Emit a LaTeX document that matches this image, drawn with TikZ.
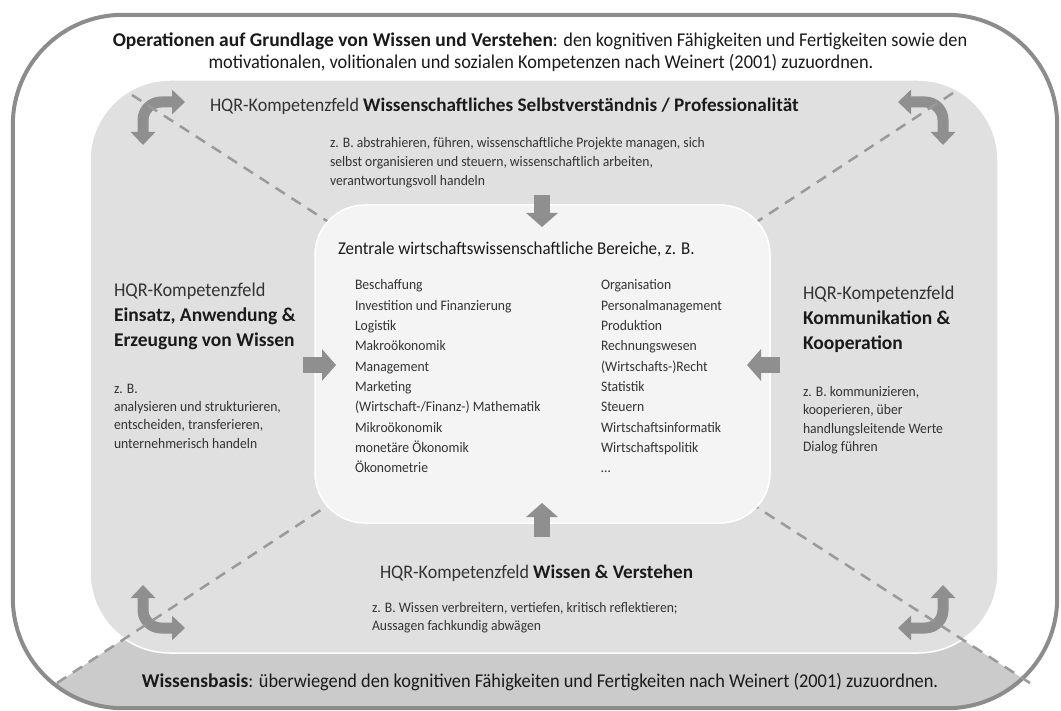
\documentclass[tikz,border=0pt]{standalone}
\usepackage{fontspec}
\setmainfont{Carlito}[UprightFeatures={FakeStretch=0.94}, BoldFeatures={FakeStretch=1.0}]
\usetikzlibrary{arrows.meta}
\definecolor{outerline}{HTML}{8C8C8C}
\definecolor{midfill}{HTML}{E0E0E0}
\definecolor{centerfill}{HTML}{F4F4F4}
\definecolor{basefill}{HTML}{CBCBCB}
\definecolor{arrowgray}{HTML}{8F8F8F}
\definecolor{dashgray}{HTML}{9A9A9A}
\definecolor{txtdark}{HTML}{1A1A1A}
\definecolor{txtreg}{HTML}{333333}
\newcommand\fsTop{\fontsize{19.5}{22}\selectfont}
\newcommand\fsHead{\fontsize{19.2}{22}\selectfont}
\newcommand\fsTitle{\fontsize{18}{22}\selectfont}
\newcommand\fsSide{\fontsize{19.5}{25}\selectfont}
\newcommand\fsSub{\fontsize{14.5}{19}\selectfont}
\newcommand\fsList{\fontsize{14.5}{19}\selectfont}
\begin{document}
\begin{tikzpicture}[x=1pt,y=-1pt,
  lbl/.style={anchor=base west, inner sep=0pt, outer sep=0pt, text=txtreg},
  ctr/.style={anchor=base, inner sep=0pt, outer sep=0pt, text=txtdark},
  dashline/.style={draw=dashgray, line width=2.5pt, dash pattern=on 11pt off 8pt},
  blockarrow/.style={draw=arrowgray, line width=16pt, -{Triangle[width=31pt,length=14pt]}},
  bentarrow/.style={draw=arrowgray, line width=11pt, rounded corners=18pt,
     {Triangle[width=24pt,length=13pt]}-{Triangle[width=24pt,length=13pt]}}]
\useasboundingbox (0,0) rectangle (1061,711);
% outer frame fill
\node[fill=white, rounded corners=110pt, minimum width=1044pt, minimum height=693pt, inner sep=0pt] (outer) at (535,361.5) {};
% knowledge base band
\begin{scope}
\clip[rounded corners=110pt] (outer.north west) rectangle (outer.south east);
\fill[basefill] (1,720) -- (183,600) -- (901,600) -- (1087,720) -- cycle;
\end{scope}
\draw[draw=outerline, line width=4pt, rounded corners=110pt] (outer.north west) rectangle (outer.south east);
% middle field
\node[fill=midfill, draw=white, line width=1.5pt, rounded corners=80pt, minimum width=908pt, minimum height=573pt, inner sep=0pt] (mid) at (544,366.5) {};
% bent arrows
\coordinate (tlv) at (143,145); \coordinate (tlc) at (143,102); \coordinate (tlh) at (185,102);
\coordinate (trv) at (943,145); \coordinate (trc) at (943,102); \coordinate (trh) at (898,102);
\coordinate (blv) at (143,585); \coordinate (blc) at (143,628); \coordinate (blh) at (185,628);
\coordinate (brv) at (943,585); \coordinate (brc) at (943,628); \coordinate (brh) at (898,628);
\draw[bentarrow] (tlv) -- (tlc) -- (tlh);
\draw[bentarrow] (trv) -- (trc) -- (trh);
\draw[bentarrow] (blv) -- (blc) -- (blh);
\draw[bentarrow] (brv) -- (brc) -- (brh);
% dashed diagonals
\coordinate (dtlA) at (132,95);  \coordinate (dtlB) at (330,223);
\coordinate (dtrA) at (953,93);  \coordinate (dtrB) at (755,223);
\coordinate (dblA) at (57,683);  \coordinate (dblB) at (330,504);
\coordinate (dbrA) at (1030,683); \coordinate (dbrB) at (755,506);
\draw[dashline] (dtlA) -- (dtlB);
\draw[dashline] (dtrA) -- (dtrB);
\draw[dashline] (dblA) -- (dblB);
\draw[dashline] (dbrA) -- (dbrB);
% center box
\node[fill=centerfill, draw=white, line width=1.5pt, rounded corners=50pt, minimum width=455pt, minimum height=318pt, inner sep=0pt] (zentral) at (542.5,364) {};
% straight block arrows
\coordinate (aTs) at (542,195); \coordinate (aTe) at (542,227);
\coordinate (aBs) at (542,537); \coordinate (aBe) at (542,503);
\coordinate (aLs) at (303,365); \coordinate (aLe) at (336,365);
\coordinate (aRs) at (780,365); \coordinate (aRe) at (747,365);
\draw[blockarrow] (aTs) -- (aTe);
\draw[blockarrow] (aBs) -- (aBe);
\draw[blockarrow] (aLs) -- (aLe);
\draw[blockarrow] (aRs) -- (aRe);
% top text
\node[ctr, font=\fsTop] (top1) at (540,47) {\textbf{Operationen auf Grundlage von Wissen und Verstehen}: den kognitiven Fähigkeiten und Fertigkeiten sowie den};
\node[ctr, font=\fsTop] (top2) at (541,69) {motivationalen, volitionalen und sozialen Kompetenzen nach Weinert (2001) zuzuordnen.};
% top field
\node[lbl, font=\fsHead] (hqrT) at (210,112) {HQR-Kompetenzfeld \textcolor{txtdark}{\textbf{Wissenschaftliches Selbstverständnis / Professionalität}}};
\node[lbl, font=\fsSub] (subT1) at (330,148) {z. B. abstrahieren, führen, wissenschaftliche Projekte managen, sich};
\node[lbl, font=\fsSub] (subT2) at (330,167) {selbst organisieren und steuern, wissenschaftlich arbeiten,};
\node[lbl, font=\fsSub] (subT3) at (330,186) {verantwortungsvoll handeln};
% center title
\node[lbl, font=\fsTitle, text=txtdark] (ztitle) at (338,255) {Zentrale wirtschaftswissenschaftliche Bereiche, z. B.};
\foreach \t [count=\i] in {Beschaffung, Investition und Finanzierung, Logistik, Makroökonomik, Management, Marketing, {(Wirtschaft-/Finanz-) Mathematik}, Mikroökonomik, monetäre Ökonomik, Ökonometrie}
  \node[lbl, font=\fsList] (la\i) at (355,{290+20.33*(\i-1)}) {\t};
\foreach \t [count=\i] in {Organisation, Personalmanagement, Produktion, Rechnungswesen, {(Wirtschafts-)Recht}, Statistik, Steuern, Wirtschaftsinformatik, Wirtschaftspolitik, \dots}
  \node[lbl, font=\fsList] (lb\i) at (601,{290+20.33*(\i-1)}) {\t};
% left field
\node[lbl, font=\fsSide] (hqrL1) at (114,297) {HQR-Kompetenzfeld};
\node[lbl, font=\fsSide, text=txtdark] (hqrL2) at (114,322) {\textbf{Einsatz, Anwendung \&}};
\node[lbl, font=\fsSide, text=txtdark] (hqrL3) at (114,347) {\textbf{Erzeugung von Wissen}};
\node[lbl, font=\fsSub] (subL1) at (114,394) {z. B.};
\node[lbl, font=\fsSub] (subL2) at (114,412) {analysieren und strukturieren,};
\node[lbl, font=\fsSub] (subL3) at (114,430) {entscheiden, transferieren,};
\node[lbl, font=\fsSub] (subL4) at (114,448) {unternehmerisch handeln};
% right field
\node[lbl, font=\fsSide] (hqrR1) at (803,300) {HQR-Kompetenzfeld};
\node[lbl, font=\fsSide, text=txtdark] (hqrR2) at (803,325) {\textbf{Kommunikation \&}};
\node[lbl, font=\fsSide, text=txtdark] (hqrR3) at (803,350) {\textbf{Kooperation}};
\node[lbl, font=\fsSub] (subR1) at (803,397) {z. B. kommunizieren,};
\node[lbl, font=\fsSub] (subR2) at (803,415) {kooperieren, über};
\node[lbl, font=\fsSub] (subR3) at (803,433) {handlungsleitende Werte};
\node[lbl, font=\fsSub] (subR4) at (803,451) {Dialog führen};
% bottom field
\node[lbl, font=\fsHead] (hqrB) at (380,578) {HQR-Kompetenzfeld \textcolor{txtdark}{\textbf{Wissen \& Verstehen}}};
\node[lbl, font=\fsSub] (subB1) at (372,612) {z. B. Wissen verbreitern, vertiefen, kritisch reflektieren;};
\node[lbl, font=\fsSub] (subB2) at (372,630) {Aussagen fachkundig abwägen};
% knowledge base text
\node[ctr, font=\fsTop] (basis) at (540,687) {\textbf{Wissensbasis}: überwiegend den kognitiven Fähigkeiten und Fertigkeiten nach Weinert (2001) zuzuordnen.};
\end{tikzpicture}
\end{document}
